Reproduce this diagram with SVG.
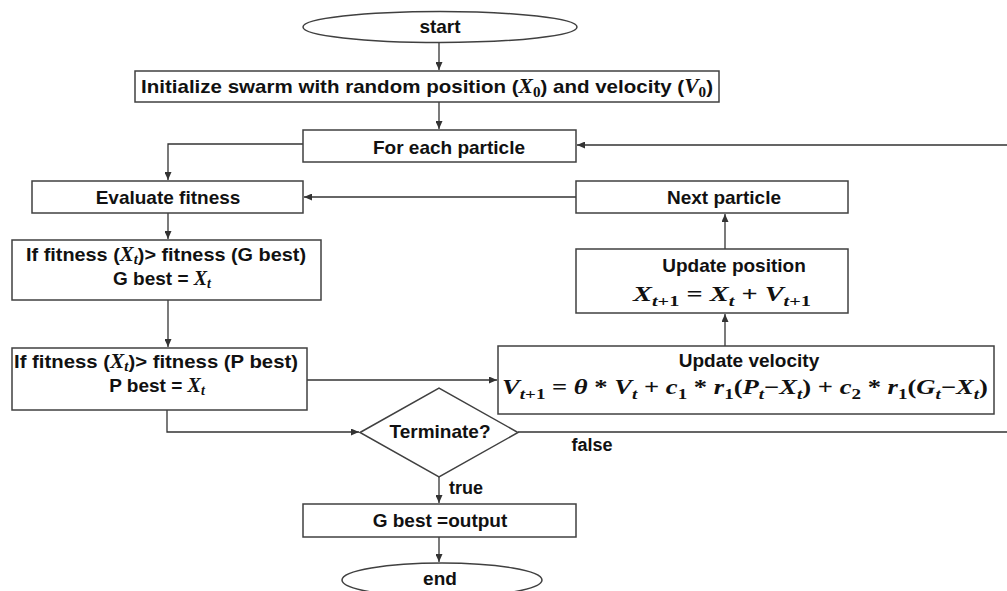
<svg xmlns="http://www.w3.org/2000/svg" width="1007" height="591" viewBox="0 0 1007 591">
<defs>
<marker id="ah" markerWidth="8" markerHeight="7" refX="8" refY="3.5" orient="auto" markerUnits="userSpaceOnUse"><path d="M0,0 L8,3.5 L0,7 z" fill="#333"/></marker>
<style>
.box{fill:#fff;stroke:#404040;stroke-width:1.5}
.t{font-family:"Liberation Sans",Arial,sans-serif;font-weight:bold;font-size:19px;fill:#111;text-anchor:middle}
.f{font-family:"Liberation Serif","Times New Roman",serif;font-weight:bold;font-size:21px;fill:#111;text-anchor:middle}
.i{font-family:"Liberation Serif","Times New Roman",serif;font-style:italic;font-weight:bold}
.u{font-family:"Liberation Serif","Times New Roman",serif;font-style:normal;font-weight:bold}
.s{font-size:14px}
.s2{font-size:15px}
.c{fill:none;stroke:#333;stroke-width:1.3;marker-end:url(#ah)}
</style>
</defs>
<rect width="1007" height="591" fill="#fff"/>
<g id="connectors">
<path class="c" d="M439,43 V70"/>
<path class="c" d="M439,102 V129"/>
<path class="c" d="M303,144 H168 V180"/>
<path class="c" d="M168,213 V239"/>
<path class="c" d="M168,300 V347"/>
<path class="c" d="M307,380 H497"/>
<path class="c" d="M725,346 V314"/>
<path class="c" d="M725,249 V214"/>
<path class="c" d="M576,197 H304"/>
<path class="c" d="M167,410 V432 H359"/>
<path class="c" d="M518,432 H1010 V145 H577"/>
<path class="c" d="M439,477 V503"/>
<path class="c" d="M439,537 V562"/>
<text class="t" x="592" y="451" style="font-size:18px">false</text>
<text class="t" x="466" y="494" style="font-size:18px">true</text>
</g>
<g id="start">
<ellipse class="box" cx="440" cy="27" rx="137" ry="15.5"/>
<text class="t" x="440" y="33">start</text>
</g>
<g id="init">
<rect class="box" x="135" y="71" width="584" height="31"/>
<text class="t" x="427" y="93" textLength="572" lengthAdjust="spacingAndGlyphs">Initialize swarm with random position (<tspan class="i" style="font-size:20px">X</tspan><tspan class="u s" dy="4">0</tspan><tspan dy="-4">) and velocity (</tspan><tspan class="i" style="font-size:20px">V</tspan><tspan class="u s" dy="4">0</tspan><tspan dy="-4">)</tspan></text>
</g>
<g id="foreach">
<rect class="box" x="303" y="130" width="273" height="32"/>
<text class="t" x="449" y="154">For each particle</text>
</g>
<g id="evaluate">
<rect class="box" x="32" y="181" width="271" height="32"/>
<text class="t" x="168" y="204">Evaluate fitness</text>
</g>
<g id="gbest">
<rect class="box" x="12" y="240" width="309" height="60"/>
<text class="t" x="166" y="261" textLength="280" lengthAdjust="spacingAndGlyphs">If fitness (<tspan class="i" style="font-size:20px">X</tspan><tspan class="i s" dy="3">t</tspan><tspan dy="-3">)&gt; fitness (G best)</tspan></text>
<text class="t" x="162" y="285">G best = <tspan class="i" style="font-size:20px">X</tspan><tspan class="i s" dy="3">t</tspan></text>
</g>
<g id="pbest">
<rect class="box" x="12" y="348" width="295" height="62"/>
<text class="t" x="156" y="368" textLength="284" lengthAdjust="spacingAndGlyphs">If fitness (<tspan class="i" style="font-size:20px">X</tspan><tspan class="i s" dy="3">t</tspan><tspan dy="-3">)&gt; fitness (P best)</tspan></text>
<text class="t" x="157" y="392">P best = <tspan class="i" style="font-size:20px">X</tspan><tspan class="i s" dy="3">t</tspan></text>
</g>
<g id="next">
<rect class="box" x="576" y="181" width="272" height="32"/>
<text class="t" x="724" y="204">Next particle</text>
</g>
<g id="position">
<rect class="box" x="576" y="249" width="272" height="64"/>
<text class="t" x="734" y="272">Update position</text>
<text class="f" x="722" y="301" textLength="178" lengthAdjust="spacingAndGlyphs"><tspan class="i">X</tspan><tspan class="i s2" dy="5">t</tspan><tspan class="s2">+1</tspan><tspan dy="-5"> = </tspan><tspan class="i">X</tspan><tspan class="i s2" dy="5">t</tspan><tspan dy="-5"> + </tspan><tspan class="i">V</tspan><tspan class="i s2" dy="5">t</tspan><tspan class="s2">+1</tspan></text>
</g>
<g id="velocity">
<rect class="box" x="498" y="346" width="496" height="68"/>
<text class="t" x="749" y="367">Update velocity</text>
<text class="f" x="745" y="394" textLength="486" lengthAdjust="spacingAndGlyphs"><tspan class="i">V</tspan><tspan class="i s2" dy="5">t</tspan><tspan class="s2">+1</tspan><tspan dy="-5"> = </tspan><tspan class="i">θ</tspan> * <tspan class="i">V</tspan><tspan class="i s2" dy="5">t</tspan><tspan dy="-5"> + </tspan><tspan class="i">c</tspan><tspan class="s2" dy="5">1</tspan><tspan dy="-5"> * </tspan><tspan class="i">r</tspan><tspan class="s2" dy="5">1</tspan><tspan dy="-5">(</tspan><tspan class="i">P</tspan><tspan class="i s2" dy="5">t</tspan><tspan dy="-5">−</tspan><tspan class="i">X</tspan><tspan class="i s2" dy="5">t</tspan><tspan dy="-5">) + </tspan><tspan class="i">c</tspan><tspan class="s2" dy="5">2</tspan><tspan dy="-5"> * </tspan><tspan class="i">r</tspan><tspan class="s2" dy="5">1</tspan><tspan dy="-5">(</tspan><tspan class="i">G</tspan><tspan class="i s2" dy="5">t</tspan><tspan dy="-5">−</tspan><tspan class="i">X</tspan><tspan class="i s2" dy="5">t</tspan><tspan dy="-5">)</tspan></text>
</g>
<g id="terminate">
<polygon class="box" points="360,432.5 439,388 518,432.5 439,477"/>
<text class="t" x="440" y="438">Terminate?</text>
</g>
<g id="output">
<rect class="box" x="303" y="504" width="273" height="33"/>
<text class="t" x="440" y="527">G best =output</text>
</g>
<g id="end">
<ellipse class="box" cx="442" cy="580" rx="100" ry="17"/>
<text class="t" x="440" y="585">end</text>
</g>
</svg>
